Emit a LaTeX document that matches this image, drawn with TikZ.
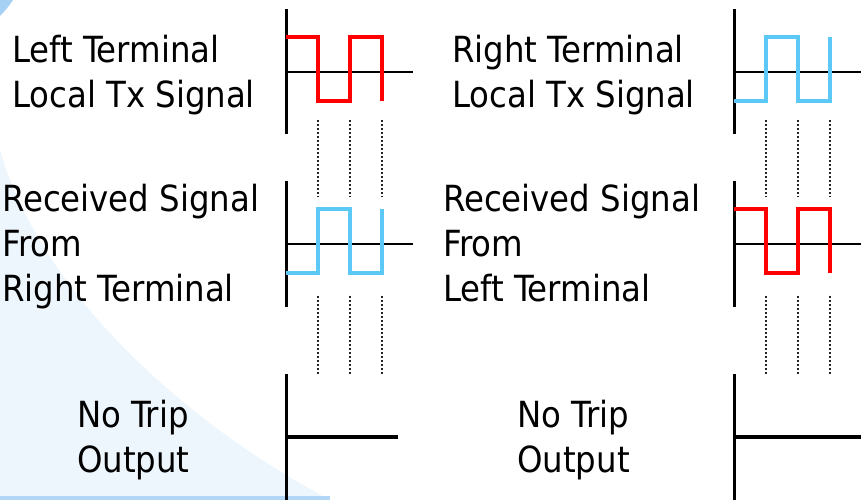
\documentclass[tikz,border=0pt]{standalone}
\usepackage{fontspec}
\IfFontExistsTF{DejaVu Sans Condensed}
  {\setmainfont{DejaVu Sans Condensed}}
  {\setmainfont{DejaVu Sans}[FakeStretch=0.9]}
\usepackage{xcolor}
\usepackage{tikz}
\usetikzlibrary{positioning}

\definecolor{sigblue}{RGB}{92,200,245}
\definecolor{swoosh}{RGB}{145,196,242}
\definecolor{swooshlight}{RGB}{238,246,253}
\definecolor{tickgray}{RGB}{35,35,35}

\begin{document}
\begin{tikzpicture}[
    x=1pt, y=-1pt,
    axis/.style={line width=3pt},
    zero/.style={line width=2.2pt},
    trip/.style={line width=3.2pt},
    txwave/.style={line width=3.2pt, red},
    rxwave/.style={line width=3.2pt, sigblue},
    edge/.style={tickgray, line width=1.8pt, dash pattern=on 1.8pt off 2.2pt},
    caption/.style={anchor=base west, align=left, inner sep=0pt,
        font=\fontsize{36}{45}\selectfont}
]
\useasboundingbox (0,0) rectangle (861,500);

% slide background swoosh
\shade[top color=swooshlight, middle color=swoosh, bottom color=swooshlight]
    (0,150) .. controls (40,290) and (180,420) .. (330,500) -- (0,500) -- cycle;
\fill[swoosh!80] (0,0) -- (13,0) .. controls (9,6) and (5,11) .. (0,16) -- cycle;
\fill[swoosh!70] (0,496) rectangle (330,500);

% captions (anchored on the last line)
\node[caption] (txleft) at (12,108) {Left Terminal\\Local Tx Signal};
\node[caption] (rxleft) at (2,301) {Received Signal\\From\\Right Terminal};
\node[caption] (tripleft) at (77,472) {No Trip\\Output};
\node[caption] (txright) at (452,108) {Right Terminal\\Local Tx Signal};
\node[caption] (rxright) at (443,301) {Received Signal\\From\\Left Terminal};
\node[caption] (tripright) at (517,472) {No Trip\\Output};

% left terminal traces
\draw[axis] (286,9) -- (286,134);
\draw[zero] (286,72) -- (413,72);
\draw[txwave] (286,37) -- (318,37) -- (318,101) -- (350,101) -- (350,37) -- (382,37) -- (382,101);
\draw[axis] (286,181) -- (286,307);
\draw[zero] (286,244) -- (413,244);
\draw[rxwave] (286,273) -- (318,273) -- (318,209) -- (350,209) -- (350,273) -- (382,273) -- (382,209);
\draw[axis] (286,374) -- (286,500);
\draw[trip] (286,437) -- (398,437);
\foreach \x in {318,350,382} {
    \draw[edge] (\x,120) -- (\x,197);
    \draw[edge] (\x,296) -- (\x,374);
}

% right terminal traces
\begin{scope}[shift={(448,0)}]
\draw[axis] (286,9) -- (286,134);
\draw[zero] (286,72) -- (413,72);
\draw[rxwave] (286,101) -- (318,101) -- (318,37) -- (350,37) -- (350,101) -- (382,101) -- (382,37);
\draw[axis] (286,181) -- (286,307);
\draw[zero] (286,244) -- (413,244);
\draw[txwave] (286,209) -- (318,209) -- (318,273) -- (350,273) -- (350,209) -- (382,209) -- (382,273);
\draw[axis] (286,374) -- (286,500);
\draw[trip] (286,437) -- (413,437);
\foreach \x in {318,350,382} {
    \draw[edge] (\x,120) -- (\x,197);
    \draw[edge] (\x,296) -- (\x,374);
}
\end{scope}

\end{tikzpicture}
\end{document}
